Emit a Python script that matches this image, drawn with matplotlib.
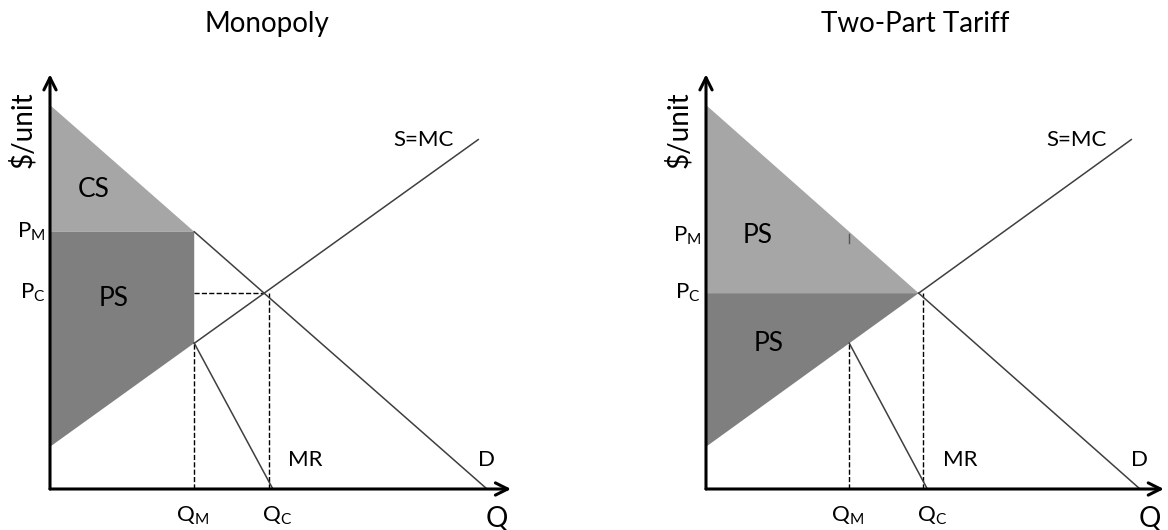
import matplotlib.pyplot as plt
import numpy as np

plt.rcParams['font.family'] = ['Lato', 'DejaVu Sans']
plt.rcParams['mathtext.fontset'] = 'custom'
plt.rcParams['mathtext.rm'] = 'Lato'

# Curves (Q and P on a 0-100 scale)
demand_q = [0, 100]
demand_p = [100, 0]
supply_q = [0, 98]
supply_p = [11, 91]
mr_q = [33, 51]
mr_p = [38, 0]

q_m = 33
p_m = 67
q_c = 49
p_c = 51
mc_at_qm = 38

line_col = '#3f3f3f'
light = '#a6a6a6'
dark = '#7f7f7f'

fig = plt.figure(figsize=(11.68, 5.30), dpi=100)
W, H = 1168, 530


def make_ax(x0, x1):
    # axes area from origin (x0, 489px) to top of demand (105px)
    ax = fig.add_axes([x0 / W, (H - 489) / H, (x1 - x0) / W, 384 / H])
    ax.set_xlim(0, 100)
    ax.set_ylim(0, 100)
    ax.axis('off')
    return ax


def segment(qs, ps, q_from):
    # part of a straight curve right of q_from (left part is hidden by shading)
    return [q_from, qs[-1]], [np.interp(q_from, qs, ps), ps[-1]]


def draw_common(ax, title, title_x, d_from, s_from):
    kw = dict(clip_on=False)
    # axes with arrows
    ax.annotate('', xy=(105.5, 0), xytext=(0, 0),
                arrowprops=dict(arrowstyle='->', lw=2.2, color='black',
                                mutation_scale=22, shrinkA=0, shrinkB=0),
                annotation_clip=False)
    ax.annotate('', xy=(0, 108), xytext=(0, 0),
                arrowprops=dict(arrowstyle='->', lw=2.2, color='black',
                                mutation_scale=22, shrinkA=0, shrinkB=0),
                annotation_clip=False)
    # curves
    ax.plot(*segment(demand_q, demand_p, d_from), color=line_col, lw=1.1, **kw)
    ax.plot(*segment(supply_q, supply_p, s_from), color=line_col, lw=1.1, **kw)
    ax.plot(mr_q, mr_p, color=line_col, lw=1.1, **kw)
    # labels
    ax.text(-6.4, 93.5, '$/unit', rotation=90, ha='center', va='center', fontsize=20)
    ax.text(102.3, -4.5, 'Q', ha='center', va='top', fontsize=20)
    ax.text(92.3, 91, 'S=MC', ha='right', va='center', fontsize=16)
    ax.text(54.5, 7.5, 'MR', ha='left', va='center', fontsize=16)
    ax.text(98, 7.5, 'D', ha='left', va='center', fontsize=16)
    ax.text(q_m - 0.5, -4, r'Q$_\mathrm{M}$', ha='center', va='top', fontsize=16)
    fig.text(title_x / W, 1 - 24 / H, title, ha='center', va='center', fontsize=20)


# ---------- Monopoly ----------
ax1 = make_ax(50, 487)
ax1.fill([0, 0, q_m], [p_m, 100, p_m], color=light, lw=0, zorder=0)
ax1.fill([0, q_m, q_m, 0], [p_m, p_m, mc_at_qm, supply_p[0]], color=dark, lw=0, zorder=0)
ax1.plot([q_m, q_m], [0, mc_at_qm], ls='--', color='black', lw=1)
ax1.plot([q_m, q_c], [p_c, p_c], ls='--', color='black', lw=1)
ax1.plot([q_c + 1, q_c + 1], [0, p_c], ls='--', color='black', lw=1)
ax1.text(q_c + 3, -4, r'Q$_\mathrm{C}$', ha='center', va='top', fontsize=16)
ax1.text(-1, p_m, r'P$_\mathrm{M}$', ha='right', va='center', fontsize=16)
ax1.text(-1, p_c, r'P$_\mathrm{C}$', ha='right', va='center', fontsize=16)
ax1.text(10, 78, 'CS', ha='center', va='center', fontsize=19)
ax1.text(14.5, 49.5, 'PS', ha='center', va='center', fontsize=19)
draw_common(ax1, 'Monopoly', 267, q_m, q_m)

# ---------- Two-Part Tariff ----------
ax2 = make_ax(706, 1140)
ax2.fill([0, 0, q_c], [p_c, 100, p_c], color=light, lw=0, zorder=0)
ax2.fill([0, q_c, 0], [p_c, p_c, supply_p[0]], color=dark, lw=0, zorder=0)
ax2.plot([q_m, q_m], [0, mc_at_qm], ls='--', color='black', lw=1)
ax2.plot([q_c + 1, q_c + 1], [0, p_c], ls='--', color='black', lw=1)
ax2.plot([q_m, q_m], [p_m - 3, p_m - 0.5], color='#555555', lw=1)
ax2.text(q_c + 3, -4, r'Q$_\mathrm{C}$', ha='center', va='top', fontsize=16)
ax2.text(-1, p_m - 1, r'P$_\mathrm{M}$', ha='right', va='center', fontsize=16)
ax2.text(-1.2, p_c, r'P$_\mathrm{C}$', ha='right', va='center', fontsize=16)
ax2.text(12, 66, 'PS', ha='center', va='center', fontsize=19)
ax2.text(14.5, 38, 'PS', ha='center', va='center', fontsize=19)
draw_common(ax2, 'Two-Part Tariff', 915, q_c, q_c)

fig.savefig('out.png', dpi=100)
